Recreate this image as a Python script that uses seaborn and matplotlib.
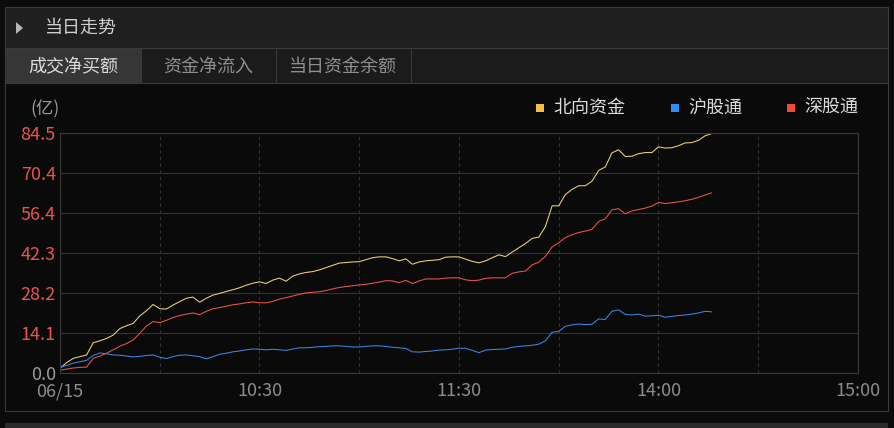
import numpy as np
import pandas as pd
import matplotlib
matplotlib.use("Agg")
import matplotlib.pyplot as plt
from matplotlib.patches import Rectangle, Polygon
import seaborn as sns

# minutes since 09:30 (trading minutes, lunch break skipped), every 2 min
minutes = list(range(0, 198, 2))

north = [1.5, 3.5, 5.0, 5.6, 6.2, 10.5, 11.2, 12.0, 13.2, 15.5,
         16.5, 17.3, 20.0, 21.8, 24.0, 22.5, 22.4, 23.8, 25.0, 26.2,
         26.6, 24.8, 26.2, 27.3, 27.9, 28.6, 29.2, 29.9, 30.8, 31.5,
         32.0, 31.4, 32.6, 33.3, 32.2, 34.0, 34.8, 35.3, 35.6, 36.2,
         37.0, 37.8, 38.6, 38.8, 39.0, 39.1, 39.8, 40.5, 40.8, 40.8,
         40.2, 39.4, 40.1, 38.2, 39.0, 39.4, 39.6, 39.8, 40.7, 40.8,
         40.8, 40.0, 39.2, 38.7, 39.4, 40.5, 41.5, 40.9, 42.5, 44.0,
         45.5, 47.3, 47.8, 51.5, 58.8, 58.8, 62.8, 64.6, 65.9, 65.9,
         67.5, 71.3, 72.5, 77.5, 78.6, 76.2, 76.3, 77.2, 77.6, 77.6,
         79.6, 79.2, 79.3, 80.0, 81.0, 81.1, 81.9, 83.5, 84.3]

shanghai = [1.8, 2.5, 3.3, 3.8, 4.3, 6.0, 6.9, 6.6, 6.2, 6.1,
            5.8, 5.5, 5.7, 6.0, 6.2, 5.4, 4.9, 5.6, 6.1, 6.2,
            5.9, 5.6, 4.8, 5.6, 6.4, 6.8, 7.3, 7.6, 8.0, 8.3,
            8.2, 8.0, 8.2, 8.0, 7.8, 8.3, 8.7, 8.7, 8.9, 9.1,
            9.2, 9.4, 9.4, 9.2, 9.0, 9.0, 9.2, 9.4, 9.4, 9.2,
            8.9, 8.7, 8.5, 7.3, 7.2, 7.4, 7.6, 7.9, 8.0, 8.2,
            8.6, 8.5, 7.8, 7.0, 7.9, 8.1, 8.2, 8.3, 8.9, 9.2,
            9.4, 9.6, 10.0, 11.2, 14.2, 14.5, 16.3, 16.8, 17.1, 16.9,
            17.0, 18.9, 18.7, 21.6, 22.1, 20.5, 20.3, 20.6, 19.9, 20.0,
            20.2, 19.5, 19.8, 20.1, 20.3, 20.6, 21.0, 21.6, 21.4]

shenzhen = [0.8, 1.2, 1.6, 1.8, 1.9, 5.0, 5.8, 6.8, 8.0, 9.3,
            10.2, 11.5, 13.8, 16.4, 18.0, 17.6, 18.4, 19.4, 20.1, 20.6,
            21.0, 20.4, 21.6, 22.5, 22.9, 23.4, 23.9, 24.2, 24.6, 24.9,
            24.6, 24.6, 25.1, 25.9, 26.4, 27.0, 27.6, 28.1, 28.3, 28.5,
            28.9, 29.5, 30.0, 30.3, 30.6, 30.9, 31.1, 31.5, 31.9, 32.4,
            32.3, 31.7, 32.5, 31.4, 32.3, 33.0, 33.0, 33.0, 33.3, 33.4,
            33.4, 32.7, 32.4, 32.6, 33.2, 33.4, 33.4, 33.4, 35.0, 35.5,
            35.8, 38.0, 38.9, 41.0, 44.3, 45.8, 47.6, 48.6, 49.4, 49.9,
            50.5, 53.3, 54.2, 57.4, 57.8, 56.0, 57.0, 57.5, 58.0, 58.7,
            60.0, 59.6, 59.9, 60.2, 60.6, 61.1, 61.8, 62.6, 63.4]

series_names = ["北向资金", "沪股通", "深股通"]
line_colors = ["#f0d27a", "#3f86e0", "#e8574c"]
legend_colors = ["#f5bd45", "#2f8df2", "#f24a37"]

y_ticks = [0.0, 14.1, 28.2, 42.3, 56.4, 70.4, 84.5]
y_labels = ["0.0", "14.1", "28.2", "42.3", "56.4", "70.4", "84.5"]
x_ticks = [0, 60, 120, 180, 240]
x_labels = ["06/15", "10:30", "11:30", "14:00", "15:00"]
tabs = ["成交净买额", "资金净流入", "当日资金余额"]

df = pd.DataFrame({"minute": minutes, series_names[0]: north,
                   series_names[1]: shanghai, series_names[2]: shenzhen})
long_df = df.melt(id_vars="minute", var_name="series", value_name="value")

sns.set_style("dark")
plt.rcParams["font.family"] = ["Noto Sans CJK SC", "DejaVu Sans"]

W, H = 895, 428
fig = plt.figure(figsize=(W / 100, H / 100), dpi=100, facecolor="#0b0b0b")


def fx(x):
    return x / W


def fy(y):
    return 1 - y / H


def box(x0, y0, x1, y1, fc, ec="none", lw=0.8):
    fig.patches.append(Rectangle((fx(x0), fy(y1)), fx(x1) - fx(x0), fy(y0) - fy(y1),
                                 transform=fig.transFigure, facecolor=fc,
                                 edgecolor=ec, linewidth=lw, zorder=-5))


# panel backgrounds
box(5, 7, 888, 411, "#0a0a0a", "#3a3a3a")
box(5, 7, 888, 48, "#1f1f1f", "#3a3a3a")
box(5, 48, 888, 83, "#1b1b1b", "#3a3a3a")
box(6, 49, 141, 83, "#363636")
for xd in [141, 276, 411]:
    fig.add_artist(plt.Line2D([fx(xd), fx(xd)], [fy(49), fy(83)], color="#3a3a3a",
                              lw=0.8, transform=fig.transFigure, zorder=-4))
box(5, 423, 888, 430, "#2b2b2b")

# header
fig.patches.append(Polygon([(fx(16), fy(22)), (fx(16), fy(34)), (fx(23), fy(28))],
                           closed=True, transform=fig.transFigure,
                           facecolor="#b5b5b5", edgecolor="none", zorder=-3))
fig.text(fx(45), fy(28), "当日走势", color="#d0d0d0", fontsize=13, va="center", ha="left")

tab_centers = [73, 208, 343]
for i, t in enumerate(tabs):
    fig.text(fx(tab_centers[i]), fy(67), t, color="#dcdcdc" if i == 0 else "#8f8f8f",
             fontsize=13, va="center", ha="center")

fig.text(fx(45), fy(109), "(亿)", color="#9a9a9a", fontsize=12.5, va="center", ha="center")

# legend
legend_x = [540, 675, 791]
for name, c, lx in zip(series_names, legend_colors, legend_x):
    box(lx - 4, 104, lx + 4, 112, c)
    fig.text(fx(lx + 13), fy(108), name, color="#dcdcdc", fontsize=13,
             va="center", ha="left")

# chart
ax = fig.add_axes([fx(60), fy(372.5), fx(858) - fx(60), fy(133) - fy(372.5)])
ax.set_zorder(2)
ax.set_facecolor("#0a0a0a")
sns.lineplot(data=long_df, x="minute", y="value", hue="series",
             palette=dict(zip(series_names, line_colors)), linewidth=0.75,
             legend=False, ax=ax)

ax.set_xlim(0, 240)
ax.set_ylim(0, 84.5)
ax.set_xticks(x_ticks)
ax.set_xticklabels(x_labels)
ax.set_xticks(range(30, 240, 30), minor=True)
ax.set_yticks(y_ticks)
ax.set_yticklabels(y_labels)
ax.set_xlabel("")
ax.set_ylabel("")
ax.tick_params(axis="x", which="both", length=0, pad=7, labelsize=13, colors="#8c8c8c")
ax.tick_params(axis="y", length=0, pad=3, labelsize=13, colors="#e8554e")
# zero label is drawn in grey
ax.get_yticklabels()[0].set_color("#9a9a9a")
ax.grid(False)
ax.grid(True, axis="y", color="#333333", linewidth=0.8, linestyle="-")
ax.grid(True, axis="x", which="both", color="#333333", linewidth=0.8, linestyle=(0, (3, 3)))
for s in ax.spines.values():
    s.set_visible(True)
    s.set_color("#3a3a3a")
    s.set_linewidth(0.8)

fig.savefig("out.png", dpi=100, facecolor=fig.get_facecolor())
